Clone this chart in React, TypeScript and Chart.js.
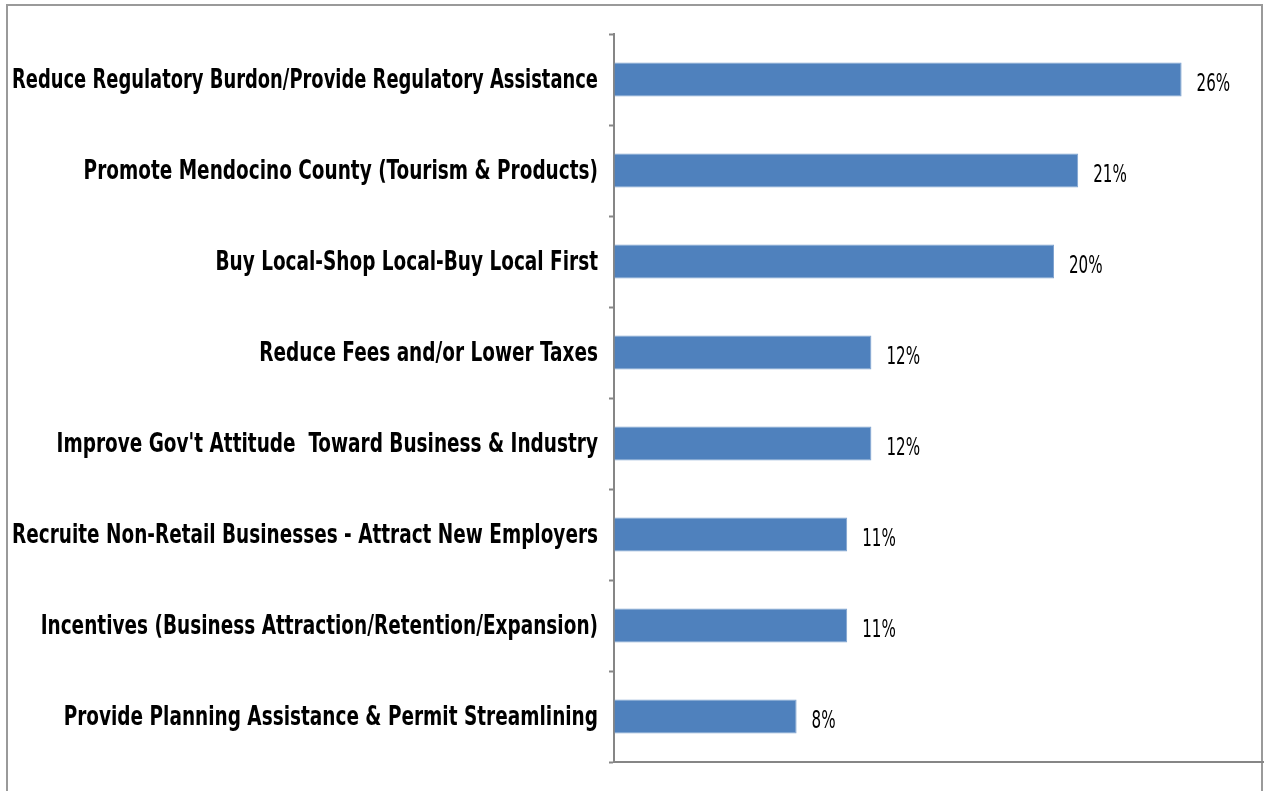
import React, { useEffect, useRef } from "react";
import { Chart, registerables } from "chart.js";

Chart.register(...registerables);

const categories: string[] = [
  "Reduce Regulatory Burdon/Provide Regulatory Assistance",
  "Promote Mendocino County (Tourism & Products)",
  "Buy Local-Shop Local-Buy Local First",
  "Reduce Fees and/or Lower Taxes",
  "Improve Gov't Attitude  Toward Business & Industry",
  "Recruite Non-Retail Businesses - Attract New Employers",
  "Incentives (Business Attraction/Retention/Expansion)",
  "Provide Planning Assistance & Permit Streamlining",
];

const values: number[] = [25.8, 21.1, 20.0, 11.7, 11.7, 10.6, 10.6, 8.3];

const xMin = 0;
const xMax = 29.5;

const LABEL_FONT = '"DejaVu Sans Condensed", "DejaVu Sans", sans-serif';

const framePlugin = {
  id: "frame",
  beforeDraw(chart: any) {
    const ctx = chart.ctx;
    ctx.save();
    ctx.fillStyle = "#ffffff";
    ctx.fillRect(0, 0, chart.width, chart.height);
    ctx.strokeStyle = "#9a9a9a";
    ctx.lineWidth = 2;
    ctx.beginPath();
    ctx.moveTo(7, chart.height);
    ctx.lineTo(7, 5);
    ctx.lineTo(1262, 5);
    ctx.lineTo(1262, chart.height);
    ctx.stroke();
    ctx.restore();
  },
};

// category labels drawn at the y scale's tick positions, horizontally condensed
const categoryLabelPlugin = {
  id: "categoryLabels",
  afterDraw(chart: any) {
    const ctx = chart.ctx;
    const yScale = chart.scales.y;
    const right = chart.chartArea.left - 16;
    const k = 0.79;
    const available = right - 12;
    ctx.save();
    ctx.fillStyle = "#000000";
    ctx.font = `bold 26px ${LABEL_FONT}`;
    ctx.textAlign = "right";
    ctx.textBaseline = "alphabetic";
    (chart.data.labels as string[]).forEach((label: string, i: number) => {
      const y = yScale.getPixelForTick(i);
      ctx.save();
      ctx.translate(right, y + 8);
      ctx.scale(k, 1);
      ctx.fillText(label, 0, 0, available / k);
      ctx.restore();
    });
    ctx.restore();
  },
};

const valueLabelPlugin = {
  id: "valueLabels",
  afterDatasetsDraw(chart: any) {
    const ctx = chart.ctx;
    const meta = chart.getDatasetMeta(0);
    ctx.save();
    ctx.fillStyle = "#000000";
    ctx.font = `24px ${LABEL_FONT}`;
    ctx.textAlign = "left";
    ctx.textBaseline = "alphabetic";
    meta.data.forEach((bar: any, i: number) => {
      const v = chart.data.datasets[0].data[i] as number;
      ctx.save();
      ctx.translate(bar.x + 15, bar.y + 11);
      ctx.scale(0.7, 1);
      ctx.fillText(`${Math.round(v)}%`, 0, 0);
      ctx.restore();
    });
    ctx.restore();
  },
};

export default function App() {
  const ref = useRef<HTMLCanvasElement | null>(null);

  useEffect(() => {
    if (!ref.current) return;
    const chart = new Chart(ref.current, {
      type: "bar",
      data: {
        labels: categories,
        datasets: [
          {
            data: values,
            backgroundColor: "#4F81BD",
            borderColor: "#7FA3D0",
            borderWidth: 1,
            barPercentage: 0.375,
            categoryPercentage: 1,
          },
        ],
      },
      options: {
        indexAxis: "y",
        responsive: false,
        animation: false,
        layout: { padding: { top: 34, bottom: 29, left: 0, right: 1 } },
        plugins: {
          legend: { display: false },
          tooltip: { enabled: false },
        },
        scales: {
          x: {
            min: xMin,
            max: xMax,
            ticks: { display: false },
            grid: { display: true, drawOnChartArea: false, drawTicks: false, color: "rgba(0,0,0,0)" },
            border: { display: true, color: "#868686", width: 2 },
            afterFit(scale: any) {
              scale.height = 0;
            },
          },
          y: {
            offset: true,
            grid: {
              offset: true,
              drawOnChartArea: false,
              drawTicks: true,
              tickLength: 5,
              tickColor: "#868686",
              tickWidth: 2,
              color: "#868686",
            },
            border: { display: true, color: "#868686", width: 2 },
            ticks: { display: false, autoSkip: false },
            afterFit(scale: any) {
              scale.width = 614;
            },
          },
        },
      },
      plugins: [framePlugin, categoryLabelPlugin, valueLabelPlugin],
    });
    return () => chart.destroy();
  }, []);

  return (
    <div style={{ position: "absolute", left: 0, top: 0, width: 1264, height: 791, background: "#fff" }}>
      <canvas ref={ref} width={1264} height={791} style={{ display: "block" }} />
    </div>
  );
}
